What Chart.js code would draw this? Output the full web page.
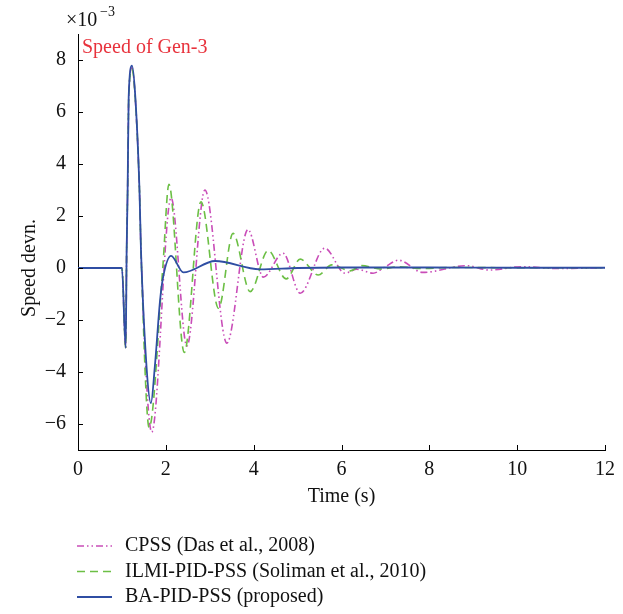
<!DOCTYPE html>
<html>
<head>
<meta charset="utf-8">
<script src="https://cdn.jsdelivr.net/npm/chart.js@4.4.0/dist/chart.umd.min.js"></script>
<style>
  html, body { margin: 0; padding: 0; background: #fff; }
  #speedChart { display: block; }
</style>
</head>
<body>
<canvas id="speedChart" width="623" height="614"></canvas>
<script>
// Speed deviation of Gen-3 (values in units of 1e-3)
const cpssTime  = [0, 1.0, 1.086, 1.108, 1.13, 1.154, 1.23, 1.305, 1.40, 1.434, 1.68, 2.12, 2.48, 2.89, 3.39, 3.87, 4.22, 4.67, 5.06, 5.62, 6.08, 6.35, 6.72, 7.0, 7.3, 7.85, 8.85, 9.37, 10.1, 10.9, 12];
const cpssSpeed = [0, 0, -3.07, 0.69, 2.98, 6.5, 7.7, 6.5, 2.98, 0.69, -6.31, 2.7, -3.0, 3.0, -2.89, 1.48, -0.35, 0.57, -0.97, 0.76, -0.2, -0.05, -0.2, 0.05, 0.3, -0.17, 0.09, -0.08, 0.05, -0.02, 0.01];

const ilmiTime  = [0, 1.0, 1.086, 1.108, 1.13, 1.154, 1.23, 1.305, 1.40, 1.434, 1.62, 1.93, 2.07, 2.42, 2.80, 3.20, 3.53, 3.92, 4.33, 4.74, 5.06, 5.47, 5.78, 6.2, 6.46, 6.9, 7.3, 7.8, 8.5, 10, 12];
const ilmiSpeed = [0, 0, -3.07, 0.69, 2.98, 6.5, 7.65, 6.5, 2.98, 0.69, -6.14, 0, 3.22, -3.25, 2.55, -1.55, 1.33, -0.91, 0.67, -0.42, 0.34, -0.27, 0.12, -0.11, 0.09, -0.04, 0.05, -0.02, 0.02, 0.01, 0.01];

const baTime  = [0, 1.0, 1.086, 1.108, 1.13, 1.154, 1.23, 1.305, 1.40, 1.434, 1.56, 1.66, 1.75, 1.87, 1.94, 2.12, 2.40, 3.12, 4.14, 5, 6, 8, 10, 12];
const baSpeed = [0, 0, -3.07, 0.69, 2.98, 6.58, 7.78, 6.58, 2.98, 0.69, -3.78, -5.2, -3.78, -1.22, -0.33, 0.47, -0.17, 0.27, -0.05, 0, 0.02, 0.02, 0.01, 0.01];

const seriesNames = ['CPSS (Das et al., 2008)', 'ILMI-PID-PSS (Soliman et al., 2010)', 'BA-PID-PSS (proposed)'];
const xTicks = [0, 2, 4, 6, 8, 10, 12];
const yTicks = [-6, -4, -2, 0, 2, 4, 6, 8];

const serif = "'Liberation Serif', 'Times New Roman', serif";

function toPoints(times, values) {
    return times.map((t, i) => ({ x: t, y: values[i] }));
}

// Inward ticks, axis titles, annotation and legend
const decorPlugin = {
    id: 'decor',
    afterDraw(chart) {
        const ctx = chart.ctx;
        const xs = chart.scales.x;
        const ys = chart.scales.y;
        ctx.save();

        ctx.strokeStyle = '#000';
        ctx.lineWidth = 1;
        ctx.beginPath();
        xTicks.forEach(v => {
            const px = Math.round(xs.getPixelForValue(v)) + 0.5;
            ctx.moveTo(px, ys.bottom);
            ctx.lineTo(px, ys.bottom - 5);
        });
        yTicks.forEach(v => {
            const py = Math.round(ys.getPixelForValue(v)) + 0.5;
            ctx.moveTo(xs.left, py);
            ctx.lineTo(xs.left + 5, py);
        });
        ctx.stroke();

        ctx.fillStyle = '#111';
        ctx.font = '20px ' + serif;
        ctx.textAlign = 'center';
        ctx.textBaseline = 'middle';
        ctx.fillText('Time (s)', (xs.left + xs.right) / 2, 497);

        ctx.save();
        ctx.translate(30, ys.getPixelForValue(0));
        ctx.rotate(-Math.PI / 2);
        ctx.fillText('Speed devn.', 0, 0);
        ctx.restore();

        // exponent label
        ctx.textAlign = 'left';
        ctx.textBaseline = 'alphabetic';
        ctx.font = '20px ' + serif;
        ctx.fillText('\u00d710', 66, 26);
        ctx.font = '14px ' + serif;
        ctx.fillText('\u22123', 100, 16);

        ctx.font = '20px ' + serif;
        ctx.fillStyle = '#e8323c';
        ctx.fillText('Speed of Gen-3', 82, 53);

        // legend
        chart.data.datasets.forEach((ds, i) => {
            const y = 546 + i * 25.5;
            ctx.strokeStyle = ds.borderColor;
            ctx.lineWidth = ds.borderWidth;
            ctx.setLineDash(ds.borderDash || []);
            ctx.beginPath();
            ctx.moveTo(77, y);
            ctx.lineTo(112, y);
            ctx.stroke();
            ctx.setLineDash([]);
            ctx.fillStyle = '#111';
            ctx.font = '20px ' + serif;
            ctx.textBaseline = 'middle';
            ctx.fillText(seriesNames[i], 125, y);
        });

        ctx.restore();
    }
};

new Chart(document.getElementById('speedChart'), {
    type: 'line',
    data: {
        datasets: [
            {
                label: seriesNames[0],
                data: toPoints(cpssTime, cpssSpeed),
                borderColor: '#c94db8',
                borderWidth: 1.6,
                borderDash: [7, 3, 1.5, 3, 1.5, 3],
                order: 2
            },
            {
                label: seriesNames[1],
                data: toPoints(ilmiTime, ilmiSpeed),
                borderColor: '#6cbf45',
                borderWidth: 1.6,
                borderDash: [8, 5],
                order: 1
            },
            {
                label: seriesNames[2],
                data: toPoints(baTime, baSpeed),
                borderColor: '#2f4ea3',
                borderWidth: 1.8,
                order: 0
            }
        ]
    },
    options: {
        responsive: false,
        animation: false,
        layout: { padding: { top: 34, right: 18, left: 0, bottom: 0 } },
        elements: {
            point: { radius: 0 },
            line: { cubicInterpolationMode: 'monotone', fill: false }
        },
        scales: {
            x: {
                type: 'linear',
                min: 0,
                max: 12,
                afterBuildTicks: scale => { scale.ticks = xTicks.map(v => ({ value: v })); },
                afterFit: scale => { scale.height = 164; },
                grid: { display: false, drawTicks: false },
                border: { display: true, color: '#000', width: 1 },
                ticks: {
                    color: '#111',
                    padding: 8,
                    maxRotation: 0,
                    font: { family: serif, size: 20 }
                }
            },
            y: {
                type: 'linear',
                min: -7,
                max: 9,
                afterBuildTicks: scale => { scale.ticks = yTicks.map(v => ({ value: v })); },
                afterFit: scale => { scale.width = 78; },
                grid: { display: false, drawTicks: false },
                border: { display: true, color: '#000', width: 1 },
                ticks: {
                    color: '#111',
                    padding: 12,
                    font: { family: serif, size: 20 },
                    callback: v => (v < 0 ? '\u2212' + Math.abs(v) : String(v))
                }
            }
        },
        plugins: {
            legend: { display: false },
            tooltip: { enabled: false }
        }
    },
    plugins: [decorPlugin]
});
</script>
</body>
</html>
